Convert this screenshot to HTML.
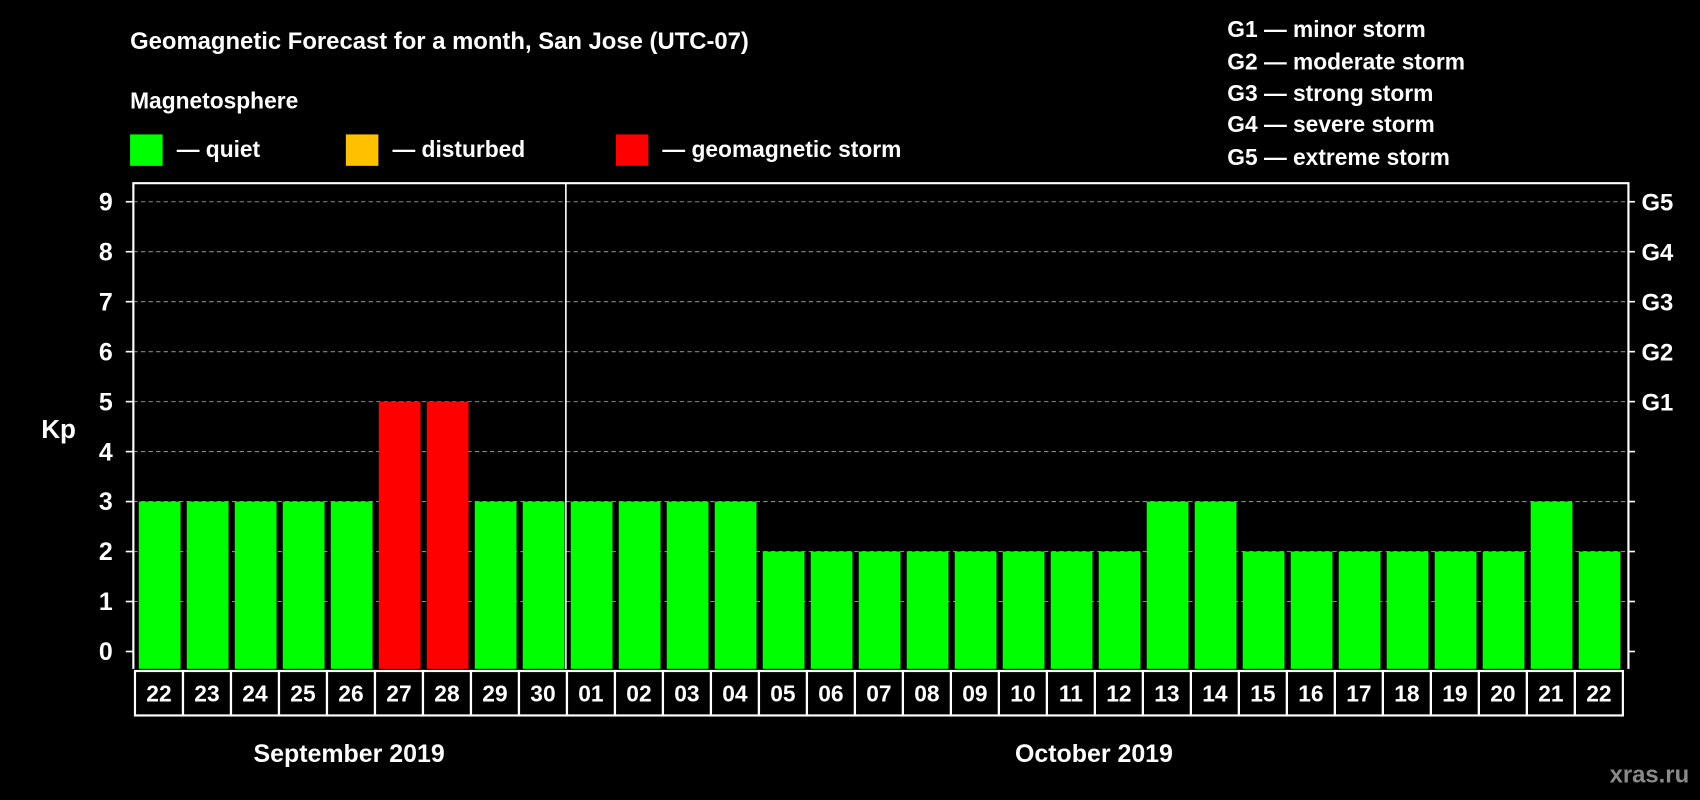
<!DOCTYPE html>
<html><head><meta charset="utf-8"><style>
html,body{margin:0;padding:0;background:#000;}
svg{display:block;}
text{font-family:"Liberation Sans",Arial,sans-serif;font-weight:bold;fill:#fff;}
</style></head><body>
<svg id="chart" width="1700" height="800" viewBox="0 0 1568 738" preserveAspectRatio="none" xmlns="http://www.w3.org/2000/svg">
<rect width="1568" height="738" fill="#000"/>
<text x="120" y="45" font-size="22">Geomagnetic Forecast for a month, San Jose (UTC-07)</text>
<text x="120" y="100" font-size="21">Magnetosphere</text>
<g><rect x="120" y="124" width="30" height="29" fill="#00ff00"/><text x="163" y="145" font-size="21">— quiet</text></g>
<g><rect x="319" y="124" width="30" height="29" fill="#ffc000"/><text x="362" y="145" font-size="21">— disturbed</text></g>
<g><rect x="568" y="124" width="30" height="29" fill="#ff0000"/><text x="611" y="145" font-size="21">— geomagnetic storm</text></g>
<g font-size="21">
<text x="1132" y="34">G1 — minor storm</text>
<text x="1132" y="64">G2 — moderate storm</text>
<text x="1132" y="93">G3 — strong storm</text>
<text x="1132" y="122">G4 — severe storm</text>
<text x="1132" y="152">G5 — extreme storm</text>
</g>
<text x="38" y="404" font-size="24">Kp</text>
<g id="grid"></g><g id="bars"></g><g id="axes"></g>
<text x="322" y="703" font-size="23" text-anchor="middle">September 2019</text>
<text x="1009" y="703" font-size="23" text-anchor="middle">October 2019</text>
<text x="1558" y="722" font-size="22" text-anchor="end" style="fill:#8a8a8a">xras.ru</text>
</svg>
<script>
const days = ["22","23","24","25","26","27","28","29","30","01","02","03","04","05","06","07","08","09","10","11","12","13","14","15","16","17","18","19","20","21","22"];
const kpValues = [3,3,3,3,3,5,5,3,3,3,3,3,3,2,2,2,2,2,2,2,2,3,3,2,2,2,2,2,2,3,2];
const yTicks = [0,1,2,3,4,5,6,7,8,9];
const gLabels = ["G1","G2","G3","G4","G5"];
const gLevels = [5,6,7,8,9];
const NS="http://www.w3.org/2000/svg";
const L=123,R=1502,T=169,B=617,x0=124.5,pitch=(1494-128+4)/31*31/31;
const step=44.27;
function yScale(v){return 601-v*46.1;}
function xScale(i){return x0+i*step;}
function mk(tag,attrs,parent){const e=document.createElementNS(NS,tag);for(const k in attrs)e.setAttribute(k,attrs[k]);parent.appendChild(e);return e;}
const grid=document.getElementById('grid'),bars=document.getElementById('bars'),axes=document.getElementById('axes');
yTicks.forEach(v=>{
  const y=yScale(v);
  if(v>0){const g=mk('line',{x1:L,x2:R,y1:y,y2:y,stroke:'#888','stroke-dasharray':'4,3','stroke-width':1},grid);
  
  }
  const t=mk('line',{x1:116,x2:L,y1:y,y2:y,stroke:'#fff','stroke-width':1.5},axes);
  
  
  const t2=mk('line',{x1:R,x2:1508,y1:y,y2:y,stroke:'#fff','stroke-width':1.5},axes);
  
  
  const lb=mk('text',{x:104,y:y+8,'font-size':23,'text-anchor':'end'},axes);
  lb.textContent=v;
  
  
});
gLabels.forEach((g,i)=>{
  const lb=mk('text',{x:1514,y:yScale(gLevels[i])+8,'font-size':22},axes);
  lb.textContent=g;
  
  
});
kpValues.forEach((v,i)=>{
  const col=v>=5?'#ff0000':(v>=4?'#ffc000':'#00ff00');
  const b=mk('rect',{x:xScale(i)+3.5,y:yScale(v),width:38.5,height:B-yScale(v),fill:col},bars);
  
  
  const c=mk('rect',{x:xScale(i),y:619,width:step,height:41,fill:'none',stroke:'#fff','stroke-width':2},axes);
  
  
  const t=mk('text',{x:xScale(i)+step/2,y:647,'font-size':21,'text-anchor':'middle'},axes);
  t.textContent=days[i];
  
  
});
const f=mk('polyline',{points:`${L},${B} ${L},${T} ${R},${T} ${R},${B}`,fill:'none',stroke:'#fff','stroke-width':2},axes);


const sep=mk('line',{x1:xScale(9)-1,x2:xScale(9)-1,y1:T,y2:B,stroke:'#fff','stroke-width':1.5},axes);


</script>
</body></html>
